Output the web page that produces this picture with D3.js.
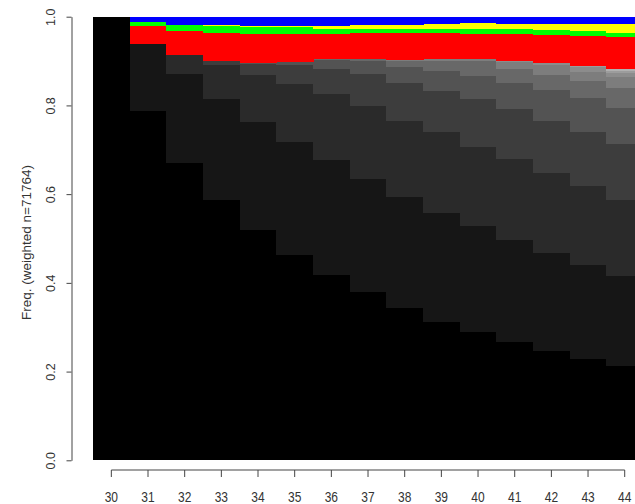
<!DOCTYPE html>
<html>
<head>
<meta charset="utf-8">
<script src="https://cdn.jsdelivr.net/npm/d3@7/dist/d3.min.js"></script>
<style>
  html, body { margin: 0; padding: 0; background: #fff; }
  svg { display: block; font-family: "Liberation Sans", Arial, sans-serif; }
</style>
</head>
<body>
<svg id="chart" width="635" height="504"></svg>
<script>
// Ages shown along the x axis
const ages = [30, 31, 32, 33, 34, 35, 36, 37, 38, 39, 40, 41, 42, 43, 44];

// State frequencies per age (each column sums to 1)
const g0 = [1.000, .788, .671, .587, .519, .463, .418, .380, .343, .312, .289, .267, .247, .228, .213];
const g1 = [0, .150, .200, .227, .244, .255, .260, .254, .251, .246, .239, .230, .220, .213, .202];
const g2 = [0, 0, .042, .076, .106, .130, .148, .164, .171, .181, .179, .182, .180, .178, .172];
const g3 = [0, 0, 0, .011, .024, .042, .057, .073, .086, .094, .107, .113, .118, .120, .126];
const g4 = [0, 0, 0, 0, .003, .007, .019, .029, .036, .045, .052, .059, .069, .077, .081];
const g5 = [0, 0, 0, 0, 0, .002, .003, .004, .013, .022, .035, .032, .035, .039, .045];
const g6 = [0, 0, 0, 0, 0, 0, 0, 0, .003, .004, .003, .016, .023, .020, .025];
const g7 = [0, 0, 0, 0, 0, 0, 0, 0, 0, 0, 0, .002, .003, .011, .010];
const g8 = [0, 0, 0, 0, 0, 0, 0, 0, 0, 0, 0, 0, 0, .003, .004];
const g9 = [0, 0, 0, 0, 0, 0, 0, 0, 0, 0, 0, 0, 0, 0, .003];
const sRed = [0, .042, .055, .062, .066, .061, .055, .059, .060, .059, .057, .060, .064, .068, .073];
const sGreen = [0, .008, .013, .016, .015, .016, .013, .010, .010, .010, .012, .012, .011, .011, .009];
const sYellow = [0, 0, .001, .002, .003, .004, .006, .009, .009, .011, .012, .011, .014, .016, .021];
const sBlue = [0, .012, .018, .019, .020, .020, .021, .018, .018, .016, .015, .016, .016, .016, .016];

// Stack order, bottom to top, with fill colours
const stateKeys = ["g0", "g1", "g2", "g3", "g4", "g5", "g6", "g7", "g8", "g9", "red", "green", "yellow", "blue"];
const stateSeries = [g0, g1, g2, g3, g4, g5, g6, g7, g8, g9, sRed, sGreen, sYellow, sBlue];
const stateColors = ["#000000", "#161616", "#2a2a2a", "#3d3d3d", "#535353", "#686868", "#7d7d7d",
                     "#8c8c8c", "#9c9c9c", "#b0b0b0", "#ff0000", "#00ff00", "#ffff00", "#0000ff"];

const yTicks = [0, 0.2, 0.4, 0.6, 0.8, 1.0];
const yTitle = "Freq. (weighted n=71764)";

// Table of rows for d3.stack
const rows = ages.map((a, i) => {
  const r = { age: a };
  stateKeys.forEach((k, j) => { r[k] = stateSeries[j][i]; });
  return r;
});

const svg = d3.select("#chart");
const plotLeft = 93, colW = 36.67;

const x = d3.scaleBand()
  .domain(ages)
  .range([plotLeft, plotLeft + colW * ages.length])
  .padding(0);

const y = d3.scaleLinear().domain([0, 1]).range([460.3, 16.7]);

const stacked = d3.stack().keys(stateKeys)(rows);

// Stacked bars
svg.append("g")
  .attr("shape-rendering", "crispEdges")
  .selectAll("g")
  .data(stacked)
  .join("g")
  .attr("fill", (d, i) => stateColors[i])
  .selectAll("rect")
  .data(d => d.filter(p => p[1] - p[0] > 0))
  .join("rect")
  .attr("x", p => x(p.data.age))
  .attr("width", x.bandwidth() + 0.5)
  .attr("y", p => y(p[1]))
  .attr("height", p => y(p[0]) - y(p[1]));

// Y axis
const yAxis = svg.append("g")
  .attr("transform", "translate(71.5,0)")
  .call(d3.axisLeft(y).tickValues(yTicks).tickFormat(d3.format(".1f")).tickSize(5).tickSizeOuter(0));
yAxis.select(".domain").attr("stroke", "#444");
yAxis.selectAll(".tick line").attr("stroke", "#444");
yAxis.selectAll(".tick text")
  .attr("fill", "#333")
  .attr("font-size", 12.5)
  .attr("x", null).attr("dy", null)
  .attr("text-anchor", "middle")
  .attr("transform", "translate(-16.5,0) rotate(-90)");

// Y axis title
svg.append("text")
  .attr("transform", `translate(31,${(y(0) + y(1)) / 2 + 4}) rotate(-90)`)
  .attr("text-anchor", "middle")
  .attr("font-size", 13.5)
  .attr("fill", "#333")
  .text(yTitle);

// X axis: line spans first to last tick
const xAxis = svg.append("g")
  .attr("transform", "translate(0,470)")
  .call(d3.axisBottom(x).tickSize(7).tickSizeOuter(0));
xAxis.select(".domain").remove();
xAxis.append("line")
  .attr("x1", x(ages[0]) + x.bandwidth() / 2)
  .attr("x2", x(ages[ages.length - 1]) + x.bandwidth() / 2)
  .attr("stroke", "#444");
xAxis.selectAll(".tick line").attr("stroke", "#444");
xAxis.selectAll(".tick text")
  .attr("fill", "#333")
  .attr("font-size", 15)
  .attr("y", null).attr("dy", null)
  .attr("transform", "translate(0,31.5) scale(0.8,1)");
</script>
</body>
</html>
